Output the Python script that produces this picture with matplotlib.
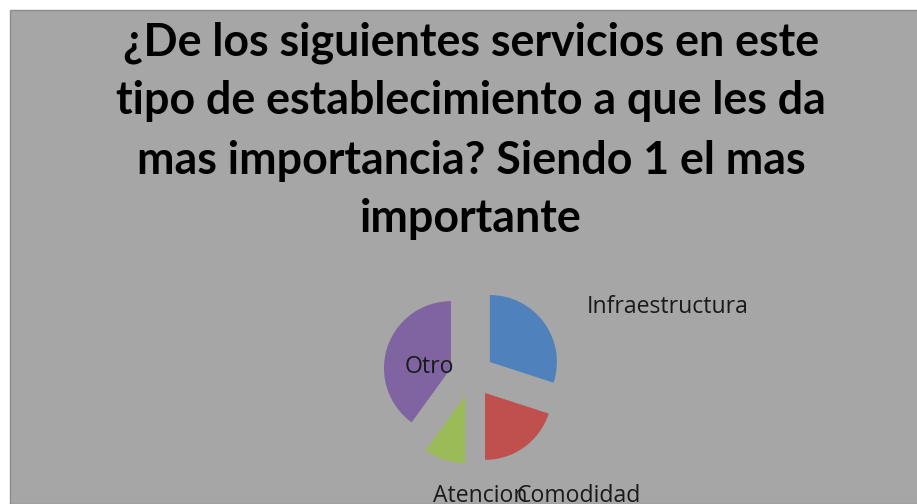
import matplotlib
matplotlib.use("Agg")
import matplotlib.pyplot as plt
from matplotlib.patches import Rectangle

title = "¿De los siguientes servicios en este\ntipo de establecimiento a que les da\nmas importancia? Siendo 1 el mas\nimportante"
categories = ["Infraestructura", "Comodidad", "Atencion", "Otro"]
values = [30, 20, 10, 40]
colors = ["#4F81BD", "#C0504D", "#9BBB59", "#8064A2"]

W, H = 917, 504
fig = plt.figure(figsize=(W / 100, H / 100), dpi=100)
fig.patch.set_facecolor("white")
bg = Rectangle((9.5 / W, 0), 1, (H - 9.5) / H, transform=fig.transFigure,
               facecolor="#A6A6A6", edgecolor="#8C8C8C", linewidth=1, zorder=-5)
fig.patches.append(bg)

fig.text(471 / W, 1 - 21 / H, title, ha="center", va="top", fontsize=32.2,
         fontweight="bold", family="Lato", color="black", linespacing=1.5)

# pie axes: radius 1 = 67 px, centered at (472, 375)
cx, cy, r = 472, 375, 67
L = 2.0
size = 2 * L * r
ax = fig.add_axes([(cx - size / 2) / W, (H - cy - size / 2) / H, size / W, size / H])
ax.set_zorder(2)
ax.set_aspect("equal")
ax.axis("off")
wedges, texts = ax.pie(values, labels=categories, colors=colors, startangle=90,
                       counterclock=False, explode=[0.33] * 4, radius=1,
                       wedgeprops=dict(linewidth=0),
                       textprops=dict(fontsize=16.6, family="Open Sans", color="#1a1a1a"))
ax.set_xlim(-L, L)
ax.set_ylim(-L, L)
pos = {"Infraestructura": (1.72, 1.015), "Comodidad": (0.67, -1.9),
       "Atencion": (-0.58, -1.9), "Otro": (-1.0, 0.12)}
for t in texts:
    t.set_position(pos[t.get_text()])
    t.set_ha("left")
    t.set_va("center" if t.get_text() in ("Infraestructura", "Otro") else "baseline")
    t.set_clip_on(False)

fig.savefig("out.png", dpi=100)
